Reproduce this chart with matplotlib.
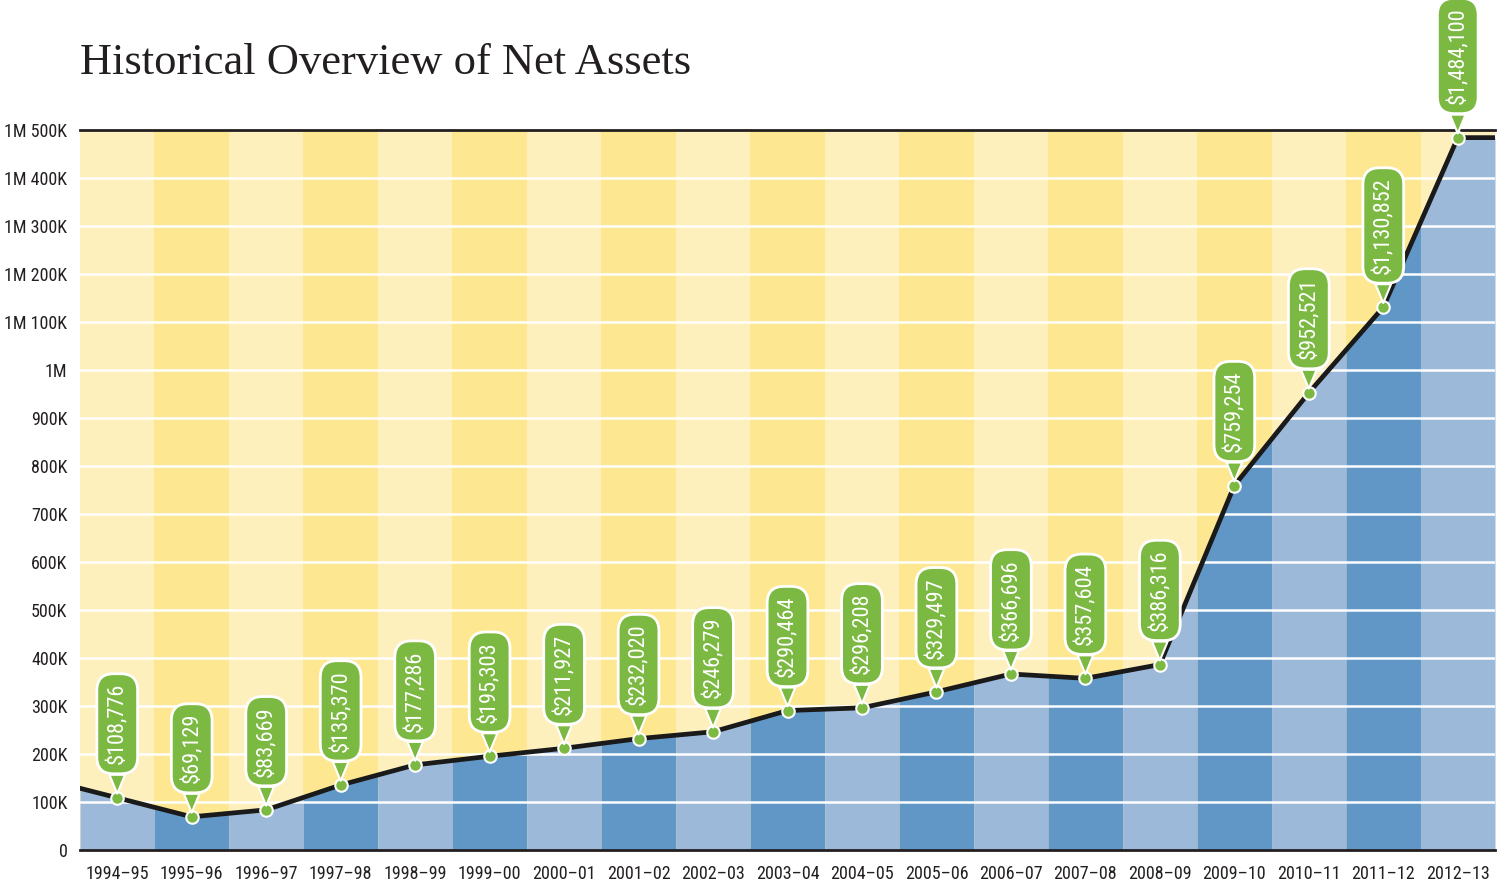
import matplotlib
matplotlib.use("Agg")
import matplotlib.pyplot as plt
import numpy as np

years = ["1994–95", "1995–96", "1996–97", "1997–98", "1998–99", "1999–00",
         "2000–01", "2001–02", "2002–03", "2003–04", "2004–05", "2005–06",
         "2006–07", "2007–08", "2008–09", "2009–10", "2010–11", "2011–12",
         "2012–13"]
net_assets = [108776, 69129, 83669, 135370, 177286, 195303, 211927, 232020,
              246279, 290464, 296208, 329497, 366696, 357604, 386316, 759254,
              952521, 1130852, 1484100]
ytick_vals = [0, 100000, 200000, 300000, 400000, 500000, 600000, 700000, 800000,
              900000, 1000000, 1100000, 1200000, 1300000, 1400000, 1500000]
ytick_labels = ["0", "100K", "200K", "300K", "400K", "500K", "600K", "700K",
                "800K", "900K", "1M", "1M 100K", "1M 200K", "1M 300K",
                "1M 400K", "1M 500K"]

narrow = ["Roboto Condensed", "DejaVu Sans Condensed", "Roboto", "DejaVu Sans"]
yel_light, yel_dark = "#fdf0bd", "#fde891"
blue_light, blue_dark = "#9cb9da", "#6197c6"
green = "#7cb942"

fig = plt.figure(figsize=(15.05, 8.84), dpi=100)
ax = fig.add_axes([80 / 1505, 34 / 884, 1415 / 1505, 720 / 884])

n = len(years)
x = np.arange(n)
vals = np.array(net_assets, dtype=float)
# line runs to the edges: extrapolate on the left, flat on the right
xs = np.concatenate([[-0.5], x, [n - 0.5]])
ys = np.concatenate([[vals[0] + (vals[0] - vals[1]) / 2], vals, [vals[-1]]])

for i in range(n):
    ax.axvspan(i - 0.5, i + 0.5, color=yel_light if i % 2 == 0 else yel_dark,
               lw=0, zorder=0)
    xx = np.array([i - 0.5, i, i + 0.5])
    ax.fill_between(xx, 0, np.interp(xx, xs, ys),
                    color=blue_light if i % 2 == 0 else blue_dark, lw=0, zorder=1)

for v in ytick_vals[1:-1]:
    ax.axhline(v, color="white", lw=1.8, zorder=2)

ax.plot(xs, ys, color="#1a1a1a", lw=3.4, zorder=3, solid_joinstyle="round")
ax.plot(x, vals, "o", ms=9, mfc=green, mec="white", mew=1.5, zorder=5)

for i, v in enumerate(net_assets):
    ax.annotate("${:,}".format(v), xy=(i, v), xytext=(0, 24),
                textcoords="offset points", rotation=90, ha="center", va="bottom",
                color="white", fontsize=16, family=narrow, zorder=6,
                annotation_clip=False,
                bbox=dict(boxstyle="round,pad=0.42,rounding_size=0.75", fc=green,
                          ec="white", lw=2),
                arrowprops=dict(arrowstyle="wedge,tail_width=0.7,shrink_factor=0.5",
                                fc=green, ec="white", lw=1.5, shrinkA=0, shrinkB=3))

ax.set_xlim(-0.5, n - 0.5)
ax.set_ylim(0, 1500000)
ax.set_xticks(x)
ax.set_xticklabels(years, family=narrow, fontsize=13, color="#231f20")
ax.set_yticks(ytick_vals)
ax.set_yticklabels(ytick_labels, family=narrow, fontsize=13, color="#231f20")
ax.tick_params(axis="x", length=0, pad=11)
ax.tick_params(axis="y", length=0, pad=9)
for s in ["left", "right"]:
    ax.spines[s].set_visible(False)
for s in ["top", "bottom"]:
    ax.spines[s].set_linewidth(2)
    ax.spines[s].set_color("#231f20")

fig.text(80 / 1505, 1 - 63 / 884, "Historical Overview of Net Assets",
         fontsize=32, family=["Liberation Serif", "DejaVu Serif"],
         color="#231f20", va="center", ha="left")

fig.savefig("out.png", dpi=100)
